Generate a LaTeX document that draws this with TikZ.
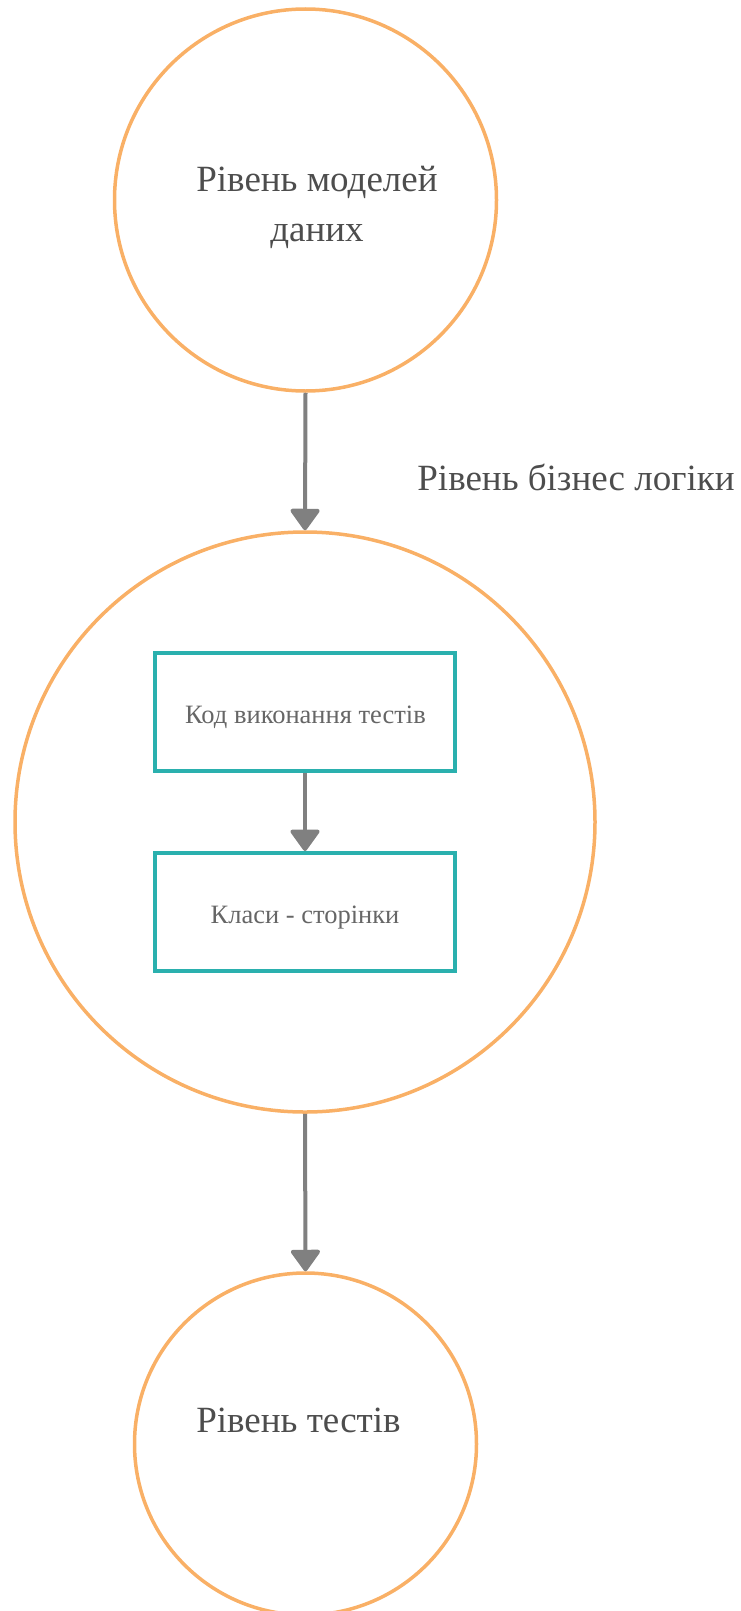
\documentclass[tikz,border=0pt]{standalone}
\usepackage{fontspec}
\setmainfont{Liberation Serif}
\usetikzlibrary{arrows.meta}
\definecolor{ringorange}{HTML}{F9B066}
\definecolor{boxteal}{HTML}{2AB0AE}
\definecolor{arrowgray}{HTML}{808080}
\definecolor{bigtext}{HTML}{4D4D4D}
\definecolor{smalltext}{HTML}{666666}
\tikzset{
  ring/.style={circle, draw=ringorange, line width=3.5pt, inner sep=0pt},
  stepbox/.style={rectangle, draw=boxteal, line width=4pt, minimum width=300pt, minimum height=118pt, inner sep=0pt},
  bigtxt/.style={text=bigtext, font=\rmfamily\fontsize{37}{50}\selectfont, anchor=base, inner sep=0pt},
  smalltxt/.style={text=smalltext, font=\rmfamily\fontsize{26.5}{30}\selectfont, anchor=base, inner sep=0pt},
  flow/.style={draw=arrowgray, line width=4pt, -{Triangle[width=32pt,length=23pt,line join=round]}}
}
\begin{document}
\begin{tikzpicture}[x=1pt,y=-1pt]
\useasboundingbox (0,0) rectangle (741,1611);
\node[ring, minimum size=382pt] (top) at (305.5,200) {};
\node[ring, minimum size=580pt] (mid) at (305,822) {};
\node[ring, minimum size=342pt] (bot) at (305.5,1444) {};
\node[stepbox] (b1) at (305,712) {};
\node[stepbox] (b2) at (305,912) {};
\node[bigtxt] (t1) at (317,191) {Рівень моделей};
\node[bigtxt] (t2) at (317,241) {даних};
\node[bigtxt] (lbl) at (576,490) {Рівень бізнес логіки};
\node[bigtxt] (t3) at (298.5,1432) {Рівень тестів};
\node[smalltxt] (bt1) at (305.5,723) {Код виконання тестів};
\node[smalltxt] (bt2) at (305,923) {Класи - сторінки};
\draw[flow] (top.south) -- (mid.north);
\draw[flow] (b1.south) -- (b2.north);
\draw[flow] (mid.south) -- (bot.north);
\end{tikzpicture}
\end{document}
